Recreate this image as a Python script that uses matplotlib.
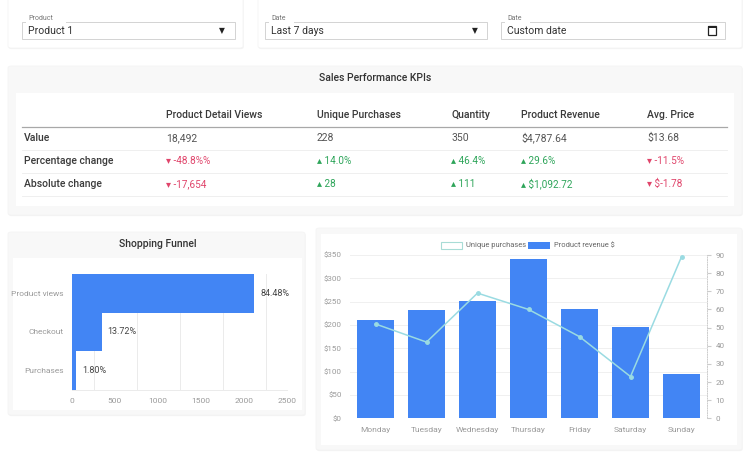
import numpy as np
import matplotlib.pyplot as plt
from matplotlib.patches import Rectangle, FancyBboxPatch
from matplotlib.lines import Line2D

plt.rcParams['font.family'] = ['Roboto', 'DejaVu Sans']

# dropdowns
product_choice = "Product 1"
date_choice = "Last 7 days"
custom_date = "Custom date"

# KPI table
kpi_columns = ["Product Detail Views", "Unique Purchases", "Quantity", "Product Revenue", "Avg. Price"]
kpi_rows = ["Value", "Percentage change", "Absolute change"]
kpi_values = ["18,492", "228", "350", "$4,787.64", "$13.68"]
kpi_pct = ["-48.8%%", "14.0%", "46.4%", "29.6%", "-11.5%"]
kpi_abs = ["-17,654", "28", "111", "$1,092.72", "$-1.78"]
kpi_up = [False, True, True, True, False]

# shopping funnel
funnel_steps = ["Product views", "Checkout", "Purchases"]
funnel_counts = [2118, 344, 45]
funnel_labels = ["84.48%", "13.72%", "1.80%"]

# weekly chart
days = ["Monday", "Tuesday", "Wednesday", "Thursday", "Friday", "Saturday", "Sunday"]
revenue = [210, 232, 252, 341, 234, 196, 96]
unique_purchases = [52, 42, 69, 60, 45, 23, 89]

W, H = 750, 462
BLUE = '#4285f4'
LINE = '#9adbe2'
RED = '#e0456b'
GREEN = '#2ea55a'


def fx(x):
    return x / W


def fy(y):
    return 1 - y / H


def card(x0, y0, x1, y1, fc='#f8f8f8'):
    # soft shadow + card
    fig.patches.append(FancyBboxPatch((fx(x0) + 0.0008, fy(y1) - 0.0025), fx(x1 - x0), (y1 - y0) / H,
                                      boxstyle="round,pad=0,rounding_size=0.004", transform=fig.transFigure,
                                      fc='#f3f3f3', ec='none', zorder=0))
    fig.patches.append(FancyBboxPatch((fx(x0), fy(y1)), fx(x1 - x0), (y1 - y0) / H,
                                      boxstyle="round,pad=0,rounding_size=0.004", transform=fig.transFigure,
                                      fc=fc, ec='#f3f3f3', lw=0.5, zorder=0.5))


def rect(x0, y0, x1, y1, fc='white', ec='none', lw=0.8, z=1):
    fig.patches.append(Rectangle((fx(x0), fy(y1)), fx(x1 - x0), (y1 - y0) / H,
                                 transform=fig.transFigure, fc=fc, ec=ec, lw=lw, zorder=z))


def hline(x0, x1, y, color, lw):
    fig.lines.append(Line2D([fx(x0), fx(x1)], [fy(y), fy(y)], transform=fig.transFigure,
                            color=color, lw=lw, zorder=2))


fig = plt.figure(figsize=(7.5, 4.62), dpi=100)
fig.patch.set_facecolor('white')

# ---- top dropdown cards
card(8, -6, 243, 48, fc='white')
card(258, -6, 742, 48, fc='white')


def dropdown(x0, x1, label, value):
    rect(x0, 22, x1, 39, fc='white', ec='#cccccc', lw=0.6, z=1)
    rect(x0 + 4, 19, x0 + 8 + 5.2 * len(label), 24, fc='white', z=1.5)
    fig.text(fx(x0 + 6), fy(19), label, fontsize=5, color='#777777', va='center', zorder=3)
    fig.text(fx(x0 + 6), fy(30.5), value, fontsize=7.5, color='#333333', va='center', zorder=3)


dropdown(22, 235, "Product", product_choice)
fig.text(fx(222), fy(31), "▼", fontsize=5.5, color='#222222', ha='center', va='center',
         family=['DejaVu Sans'])
dropdown(265, 487, "Date", date_choice)
fig.text(fx(475), fy(31), "▼", fontsize=5.5, color='#222222', ha='center', va='center',
         family=['DejaVu Sans'])
dropdown(501, 725, "Date", custom_date)
rect(708, 26, 716, 35, fc='none', ec='#222222', lw=0.9, z=3)
rect(708, 26, 716, 28, fc='#222222', ec='none', z=3)

# ---- KPI card
card(8, 66, 742, 215)
rect(16, 93, 734, 206, fc='white', z=1)
fig.text(0.5, fy(78), "Sales Performance KPIs", fontsize=7.5, color='#333333', ha='center',
         va='center', weight='medium')

col_x = [166, 317, 451, 521, 647]
row_y = [138, 161, 184]
for cx, name in zip(col_x, kpi_columns):
    fig.text(fx(cx), fy(115), name, fontsize=7.5, color='#3a3a3a', va='center', weight='medium')
hline(22, 727, 126.5, '#a8a8a8', 0.9)
for ry in [149.5, 172.5, 196]:
    hline(22, 727, ry, '#ececec', 0.6)
for ry, name in zip(row_y, kpi_rows):
    fig.text(fx(24), fy(ry), name, fontsize=7.5, color='#3a3a3a', va='center', weight='medium')
for i, cx in enumerate(col_x):
    fig.text(fx(cx), fy(row_y[0]), kpi_values[i], fontsize=7.5, color='#555555', va='center')
    c = GREEN if kpi_up[i] else RED
    arrow = "▴" if kpi_up[i] else "▾"
    fig.text(fx(cx), fy(row_y[1]), arrow + " " + kpi_pct[i], fontsize=7.2, color=c, va='center')
    fig.text(fx(cx), fy(row_y[2]), arrow + " " + kpi_abs[i], fontsize=7.2, color=c, va='center')

# ---- Funnel card
card(8, 232, 305, 415)
rect(13, 258, 302, 410, fc='white', z=1)
fig.text(fx(158), fy(244), "Shopping Funnel", fontsize=7.5, color='#333333', ha='center',
         va='center', weight='medium')

ax1 = fig.add_axes([fx(72), fy(390), fx(287 - 72), (390 - 274) / H])
ax1.set_zorder(2)
ax1.patch.set_alpha(0)
ypos = np.arange(len(funnel_steps))
ax1.barh(ypos, funnel_counts, height=1.0, color=BLUE, zorder=2)
for yy, v, lab in zip(ypos, funnel_counts, funnel_labels):
    ax1.text(v + 70, yy, lab, fontsize=6.5, color='#444444', va='center')
ax1.set_xlim(0, 2500)
ax1.set_ylim(2.5, -0.5)
ax1.set_yticks(ypos)
ax1.set_yticklabels(funnel_steps, fontsize=6, color='#9a9a9a')
ax1.set_xticks(np.arange(0, 2501, 500))
ax1.set_xticklabels([str(v) for v in range(0, 2501, 500)], fontsize=6, color='#9a9a9a')
ax1.set_xticks(np.arange(250, 2500, 500), minor=True)
ax1.grid(axis='x', which='minor', color='#ebebeb', lw=0.7, zorder=0)
ax1.tick_params(length=0, pad=6)
ax1.tick_params(which='minor', length=0)
for s in ['top', 'right', 'left']:
    ax1.spines[s].set_visible(False)
ax1.spines['bottom'].set_color('#ebebeb')
ax1.spines['bottom'].set_linewidth(0.7)

# ---- Weekly chart card
card(316, 228, 742, 450)
rect(321, 234, 737, 445, fc='white', z=1)

ax2 = fig.add_axes([fx(350), fy(418.3), fx(707 - 350), (418.3 - 255) / H])
ax2.set_zorder(2)
ax2.patch.set_alpha(0)
xpos = np.arange(len(days))
ax2.bar(xpos, revenue, width=0.72, color=BLUE, zorder=2)
ax2.set_xlim(-0.5, 6.5)
ax2.set_ylim(0, 350)
ax2.set_yticks(np.arange(0, 351, 50))
ax2.set_yticklabels(["$" + str(v) for v in range(0, 351, 50)], fontsize=5.8, color='#9a9a9a')
ax2.set_xticks(xpos)
ax2.set_xticklabels(days, fontsize=6, color='#9a9a9a')
ax2.grid(axis='y', color='#f0f0f0', lw=0.7, zorder=0)
ax2.tick_params(axis='y', length=0, pad=6)
ax2.tick_params(axis='x', length=0, pad=6)
for s in ax2.spines.values():
    s.set_visible(False)

ax3 = ax2.twinx()
ax3.set_zorder(3)
ax3.patch.set_alpha(0)
ax3.plot(xpos, unique_purchases, color=LINE, lw=1.1, marker='o', markersize=2.5,
         markerfacecolor=LINE, markeredgecolor=LINE, zorder=3)
ax3.set_ylim(0, 90)
ax3.set_yticks(np.arange(0, 91, 10))
ax3.set_yticklabels([str(v) for v in range(0, 91, 10)], fontsize=5.8, color='#9a9a9a')
ax3.tick_params(axis='y', length=3, color='#cccccc', pad=3)
for s in ['top', 'left', 'bottom']:
    ax3.spines[s].set_visible(False)
ax3.spines['right'].set_color('#cccccc')
ax3.spines['right'].set_linestyle((0, (1, 1.5)))
ax3.spines['right'].set_linewidth(0.7)

# legend
rect(441, 242, 462, 249, fc='white', ec='#a8dcd6', lw=0.8, z=3)
fig.text(fx(466), fy(245.5), "Unique purchases", fontsize=5.4, color='#666666', va='center')
rect(528, 242, 550, 249, fc=BLUE, z=3)
fig.text(fx(554), fy(245.5), "Product revenue $", fontsize=5.4, color='#666666', va='center')

fig.savefig("out.png", dpi=100)
